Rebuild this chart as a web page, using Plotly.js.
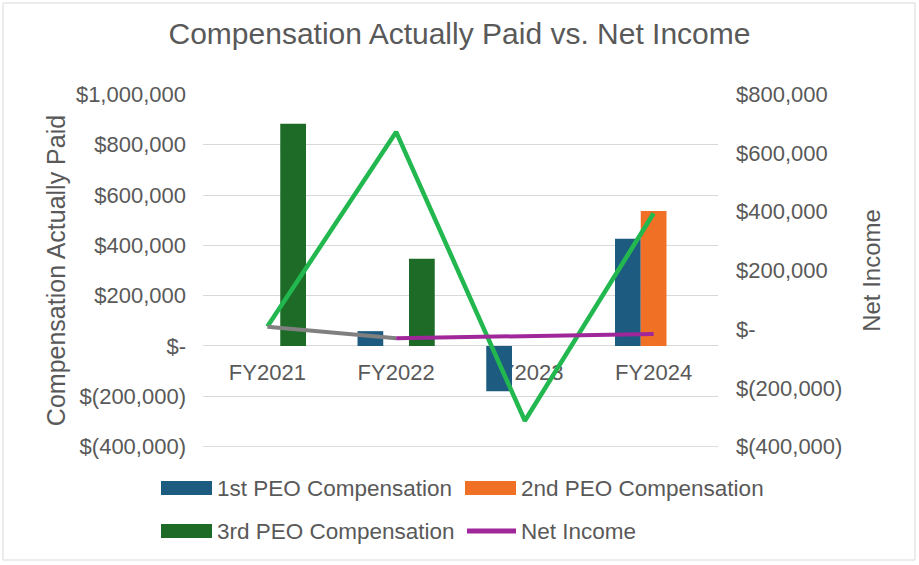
<!DOCTYPE html>
<html>
<head>
<meta charset="utf-8">
<script src="https://cdn.plot.ly/plotly-3.0.1.min.js"></script>
<style>
  html, body { margin: 0; padding: 0; background: #ffffff; }
  #chart { width: 919px; height: 565px; }
</style>
</head>
<body>
<div id="chart"></div>
<script>
// ---- data ----
const categories = ['FY2021', 'FY2022', 'FY2023', 'FY2024'];
const peo1Comp = [null, 59000, -180000, 426000];
const peo2Comp = [null, null, null, 536000];
const peo3Comp = [883000, 347000, null, null];
const incomeLine = [9000, 672000, -312000, 395000];
const netIncome = [8500, -31000, -24000, -16000];
const seriesNames = ['1st PEO Compensation', '2nd PEO Compensation', '3rd PEO Compensation', 'Net Income'];
const leftTickVals = [-400000, -200000, 0, 200000, 400000, 600000, 800000, 1000000];
const leftTickText = ['$(400,000)', '$(200,000)', '$-', '$200,000', '$400,000', '$600,000', '$800,000', '$1,000,000'];
const rightTickVals = [-400000, -200000, 0, 200000, 400000, 600000, 800000];
const rightTickText = ['$(400,000)', '$(200,000)', '$-', '$200,000', '$400,000', '$600,000', '$800,000'];

// ---- style ----
const colors = { peo1: '#1d5c80', peo2: '#f07026', peo3: '#1d6b27', green: '#22b84f', purple: '#a0279a', gray: '#808080' };
const FONT = 'Liberation Sans, Arial, sans-serif';
const TXT = '#595959';
const GRID = '#d9d9d9';

const W = 919, H = 565, L = 203, R = 201, T = 94, B = 118;
const pw = W - L - R, ph = H - T - B;
const px = x => (x - L) / pw;
const py = y => (H - B - y) / ph;

const traces = [
  { type: 'bar', name: seriesNames[0], x: categories, y: peo1Comp, marker: { color: colors.peo1 }, yaxis: 'y', showlegend: false },
  { type: 'bar', name: seriesNames[1], x: categories, y: peo2Comp, marker: { color: colors.peo2 }, yaxis: 'y', showlegend: false },
  { type: 'bar', name: seriesNames[2], x: categories, y: peo3Comp, marker: { color: colors.peo3 }, yaxis: 'y', showlegend: false },
  { type: 'scatter', mode: 'lines', name: 'Net Income trend', x: categories, y: incomeLine, yaxis: 'y2',
    line: { color: colors.green, width: 4.5 }, showlegend: false },
  { type: 'scatter', mode: 'lines', name: seriesNames[3], x: categories.slice(0, 2), y: netIncome.slice(0, 2), yaxis: 'y2',
    line: { color: colors.gray, width: 4 }, showlegend: false },
  { type: 'scatter', mode: 'lines', name: seriesNames[3], x: categories.slice(1), y: netIncome.slice(1), yaxis: 'y2',
    line: { color: colors.purple, width: 4 }, showlegend: false }
];

// custom legend (swatches + labels)
const legendItems = [
  { name: seriesNames[0], color: colors.peo1, kind: 'rect', x: 161, y: 488 },
  { name: seriesNames[1], color: colors.peo2, kind: 'rect', x: 465, y: 488 },
  { name: seriesNames[2], color: colors.peo3, kind: 'rect', x: 161, y: 531 },
  { name: seriesNames[3], color: colors.purple, kind: 'line', x: 465, y: 531 }
];
const shapes = [
  { type: 'rect', xref: 'paper', yref: 'paper', x0: px(3), x1: px(915), y0: py(560), y1: py(3),
    line: { color: GRID, width: 1 }, fillcolor: 'rgba(0,0,0,0)', layer: 'below' },
  // bottom gridline at the lowest tick (hidden by Plotly at the plot edge)
  { type: 'line', xref: 'paper', yref: 'y', x0: 0, x1: 1, y0: leftTickVals[0], y1: leftTickVals[0],
    line: { color: GRID, width: 1 }, layer: 'below' }
];
const annotations = [];
legendItems.forEach(it => {
  if (it.kind === 'rect') {
    shapes.push({ type: 'rect', xref: 'paper', yref: 'paper', x0: px(it.x), x1: px(it.x + 51), y0: py(it.y + 7), y1: py(it.y - 7),
      fillcolor: it.color, line: { width: 0 } });
  } else {
    shapes.push({ type: 'line', xref: 'paper', yref: 'paper', x0: px(it.x + 2), x1: px(it.x + 51), y0: py(it.y), y1: py(it.y),
      line: { color: it.color, width: 5 } });
  }
  annotations.push({ xref: 'paper', yref: 'paper', x: px(it.x + 54), y: py(it.y), xanchor: 'left', yanchor: 'middle',
    text: it.name, showarrow: false, font: { family: FONT, size: 22.5, color: TXT } });
});

const layout = {
  width: W, height: H,
  margin: { l: L, r: R, t: T, b: B },
  paper_bgcolor: '#ffffff', plot_bgcolor: '#ffffff',
  font: { family: FONT, color: TXT },
  title: { text: 'Compensation Actually Paid vs. Net Income', x: 0.5, xanchor: 'center', y: 1 - 33 / H, yanchor: 'middle',
    font: { family: FONT, size: 30, color: TXT } },
  barmode: 'group', bargap: 0.4, bargroupgap: 0,
  showlegend: false,
  xaxis: {
    type: 'category', categoryorder: 'array', categoryarray: categories,
    anchor: 'free', position: py(345.7), showgrid: false, zeroline: false, showline: false,
    ticks: '', ticklabelstandoff: 11, tickfont: { family: FONT, size: 22, color: TXT }, layer: 'below traces'
  },
  yaxis: {
    range: [-401500, 1001500], tickvals: leftTickVals, ticktext: leftTickText,
    showgrid: true, gridcolor: GRID, gridwidth: 1, zeroline: false, showline: false, ticks: '',
    ticklabelstandoff: 16, tickfont: { family: FONT, size: 22, color: TXT },
    title: { text: 'Compensation Actually Paid', standoff: 3, font: { family: FONT, size: 25, color: TXT } },
    automargin: false
  },
  yaxis2: {
    overlaying: 'y', side: 'right', range: [-401286, 801286], tickvals: rightTickVals, ticktext: rightTickText,
    showgrid: false, zeroline: false, showline: false, ticks: '',
    ticklabelstandoff: 17, tickfont: { family: FONT, size: 22, color: TXT },
    title: { text: 'Net Income', standoff: 21, font: { family: FONT, size: 24, color: TXT } },
    automargin: false
  },
  shapes: shapes,
  annotations: annotations
};

Plotly.newPlot('chart', traces, layout, { displayModeBar: false, staticPlot: true });
</script>
</body>
</html>
